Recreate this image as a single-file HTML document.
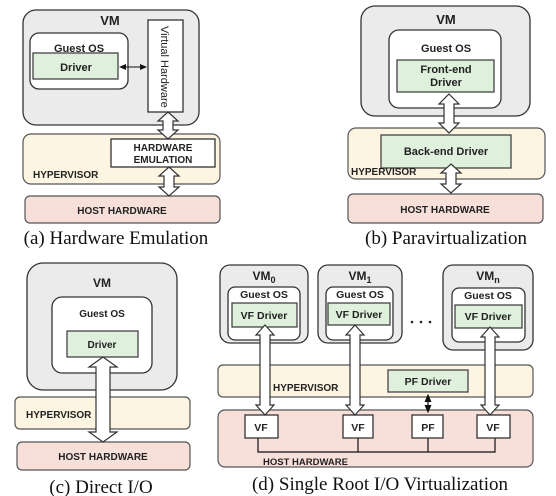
<!DOCTYPE html>
<html><head><meta charset="utf-8"><style>
html,body{margin:0;padding:0;background:#fff}
svg{display:block}
text{font-family:"Liberation Sans",sans-serif;font-weight:bold;fill:#222}
.cap{font-family:"Liberation Serif",serif;font-weight:normal;font-size:19px;fill:#111}
.vm{fill:#ebebeb;stroke:#333;stroke-width:1.3}
.os{fill:#fff;stroke:#333;stroke-width:1.3}
.dr{fill:#dff0dc;stroke:#444;stroke-width:1.3}
.hv{fill:#fdf5e2;stroke:#555;stroke-width:1.2}
.hh{fill:#f7dfda;stroke:#555;stroke-width:1.2}
.wb{fill:#fff;stroke:#333;stroke-width:1.3}
.ar{fill:#fff;stroke:#333;stroke-width:1.2}
</style></head><body>
<svg width="556" height="496" viewBox="0 0 556 496" xmlns="http://www.w3.org/2000/svg">
<defs><marker id="ah" markerWidth="8" markerHeight="8" refX="6" refY="3" orient="auto-start-reverse"><path d="M0,0 L7,3 L0,6Z" fill="#111"/></marker></defs>
<!-- (a) -->
<rect class="vm" x="23" y="10" width="176" height="115" rx="13"/>
<text x="110" y="25" font-size="13" text-anchor="middle">VM</text>
<rect class="os" x="30" y="33" width="98" height="56" rx="9"/>
<text x="79" y="52" font-size="11" text-anchor="middle">Guest OS</text>
<rect class="dr" x="33" y="53" width="85" height="26"/>
<text x="76" y="71" font-size="11" text-anchor="middle">Driver</text>
<rect class="wb" x="148" y="20" width="35" height="92"/>
<text transform="translate(161,26) rotate(90)" font-size="11" style="font-weight:normal">Virtual Hardware</text>
<line x1="120" y1="67" x2="146" y2="67" stroke="#111" stroke-width="1" marker-start="url(#ah)" marker-end="url(#ah)"/>
<rect class="hv" x="23" y="134" width="197" height="50" rx="8"/>
<rect class="wb" x="111" y="139" width="104" height="28"/>
<text x="163" y="151" font-size="10" text-anchor="middle">HARDWARE</text>
<text x="163" y="163" font-size="10" text-anchor="middle">EMULATION</text>
<text x="33" y="178" font-size="10">HYPERVISOR</text>
<rect class="hh" x="25" y="196" width="195" height="27" rx="5"/>
<text x="122" y="214" font-size="10" text-anchor="middle">HOST HARDWARE</text>
<path class="ar" d="M168,112 L178,121 L173,121 L173,130 L178,130 L168,139 L158,130 L163,130 L163,121 L158,121Z"/>
<path class="ar" d="M169,167 L179,176 L174,176 L174,187 L179,187 L169,196 L159,187 L164,187 L164,176 L159,176Z"/>
<text class="cap" x="116" y="244" text-anchor="middle">(a) Hardware Emulation</text>
<!-- (b) -->
<rect class="vm" x="361" y="6" width="169" height="110" rx="14"/>
<text x="446" y="24" font-size="13" text-anchor="middle">VM</text>
<rect class="os" x="389" y="30" width="112" height="78" rx="10"/>
<text x="446" y="52" font-size="11" text-anchor="middle">Guest OS</text>
<rect class="dr" x="397" y="60" width="97" height="32"/>
<text x="446" y="73" font-size="11" text-anchor="middle">Front-end</text>
<text x="446" y="86" font-size="11" text-anchor="middle">Driver</text>
<rect class="hv" x="348" y="128" width="197" height="51" rx="8"/>
<rect class="dr" x="381" y="135" width="130" height="33"/>
<text x="446" y="155" font-size="11" text-anchor="middle">Back-end Driver</text>
<text x="351" y="175" font-size="10">HYPERVISOR</text>
<rect class="hh" x="348" y="194" width="195" height="29" rx="5"/>
<text x="445" y="213" font-size="10" text-anchor="middle">HOST HARDWARE</text>
<path class="ar" d="M449,94 L459,104 L454,104 L454,123 L459,123 L449,133 L439,123 L444,123 L444,104 L439,104Z"/>
<path class="ar" d="M451,164 L461,173 L456,173 L456,184 L461,184 L451,193 L441,184 L446,184 L446,173 L441,173Z"/>
<text class="cap" x="446" y="244" text-anchor="middle">(b) Paravirtualization</text>
<!-- (c) -->
<rect class="vm" x="27" y="263" width="150" height="127" rx="16"/>
<text x="102" y="287" font-size="12" text-anchor="middle">VM</text>
<rect class="os" x="52" y="297" width="100" height="76" rx="10"/>
<text x="102" y="317" font-size="10" text-anchor="middle">Guest OS</text>
<rect class="dr" x="67" y="331" width="71" height="26"/>
<text x="102" y="348" font-size="10" text-anchor="middle">Driver</text>
<rect class="hv" x="15" y="397" width="175" height="32" rx="5"/>
<text x="26" y="418" font-size="10">HYPERVISOR</text>
<rect class="hh" x="17" y="442" width="173" height="28" rx="5"/>
<text x="103" y="460" font-size="10" text-anchor="middle">HOST HARDWARE</text>
<path class="ar" d="M103,357 L117,367 L110,367 L110,432 L117,432 L103,442 L89,432 L96,432 L96,367 L89,367Z"/>
<text class="cap" x="101" y="493" text-anchor="middle">(c) Direct I/O</text>
<!-- (d) -->
<rect class="vm" x="220" y="265" width="88" height="78" rx="10"/>
<text x="264" y="280" font-size="12" text-anchor="middle">VM<tspan font-size="9" dy="3">0</tspan></text>
<rect class="os" x="228" y="287" width="72" height="53" rx="7"/>
<text x="264" y="298" font-size="10.5" text-anchor="middle">Guest OS</text>
<rect class="dr" x="232" y="303" width="65" height="24"/>
<text x="264" y="319" font-size="10.5" text-anchor="middle">VF Driver</text>
<rect class="vm" x="318" y="265" width="84" height="78" rx="10"/>
<text x="360" y="280" font-size="12" text-anchor="middle">VM<tspan font-size="9" dy="3">1</tspan></text>
<rect class="os" x="326" y="287" width="67" height="53" rx="7"/>
<text x="360" y="298" font-size="10.5" text-anchor="middle">Guest OS</text>
<rect class="dr" x="328" y="303" width="62" height="22"/>
<text x="359" y="318" font-size="10.5" text-anchor="middle">VF Driver</text>
<circle cx="412" cy="322" r="1.3" fill="#222"/><circle cx="421" cy="322" r="1.3" fill="#222"/><circle cx="430" cy="322" r="1.3" fill="#222"/>
<rect class="vm" x="443" y="265" width="90" height="85" rx="10"/>
<text x="488" y="280" font-size="12" text-anchor="middle">VM<tspan font-size="9" dy="3">n</tspan></text>
<rect class="os" x="452" y="288" width="73" height="54" rx="7"/>
<text x="488" y="299" font-size="10.5" text-anchor="middle">Guest OS</text>
<rect class="dr" x="455" y="305" width="67" height="23"/>
<text x="488" y="320" font-size="10.5" text-anchor="middle">VF Driver</text>
<rect class="hv" x="218" y="365" width="315" height="32" rx="5"/>
<rect class="dr" x="388" y="370" width="80" height="22"/>
<text x="428" y="385" font-size="10.5" text-anchor="middle">PF Driver</text>
<text x="273" y="391" font-size="10">HYPERVISOR</text>
<rect class="hh" x="218" y="410" width="315" height="57" rx="7"/>
<path d="M258,438 V452 H495 V438 M358,438 V452 M428,438 V452" fill="none" stroke="#111" stroke-width="1.2"/>
<rect class="wb" x="245" y="415" width="33" height="23"/>
<text x="261" y="431" font-size="10.5" text-anchor="middle">VF</text>
<rect class="wb" x="343" y="415" width="30" height="23"/>
<text x="358" y="431" font-size="10.5" text-anchor="middle">VF</text>
<rect class="wb" x="412" y="415" width="31" height="23"/>
<text x="428" y="431" font-size="10.5" text-anchor="middle">PF</text>
<rect class="wb" x="477" y="415" width="33" height="23"/>
<text x="493" y="431" font-size="10.5" text-anchor="middle">VF</text>
<text x="263" y="465" font-size="9.5">HOST HARDWARE</text>
<line x1="428" y1="395" x2="428" y2="412" stroke="#111" stroke-width="1.2" marker-start="url(#ah)" marker-end="url(#ah)"/>
<path class="ar" d="M265,325 L274,335 L270,335 L270,405 L274,405 L265,415 L256,405 L260,405 L260,335 L256,335Z"/>
<path class="ar" d="M355,325 L364,335 L360,335 L360,405 L364,405 L355,415 L346,405 L350,405 L350,335 L346,335Z"/>
<path class="ar" d="M490,327 L499,337 L495,337 L495,405 L499,405 L490,415 L481,405 L485,405 L485,337 L481,337Z"/>
<text class="cap" x="380" y="490" text-anchor="middle">(d) Single Root I/O Virtualization</text>
</svg>
</body></html>
